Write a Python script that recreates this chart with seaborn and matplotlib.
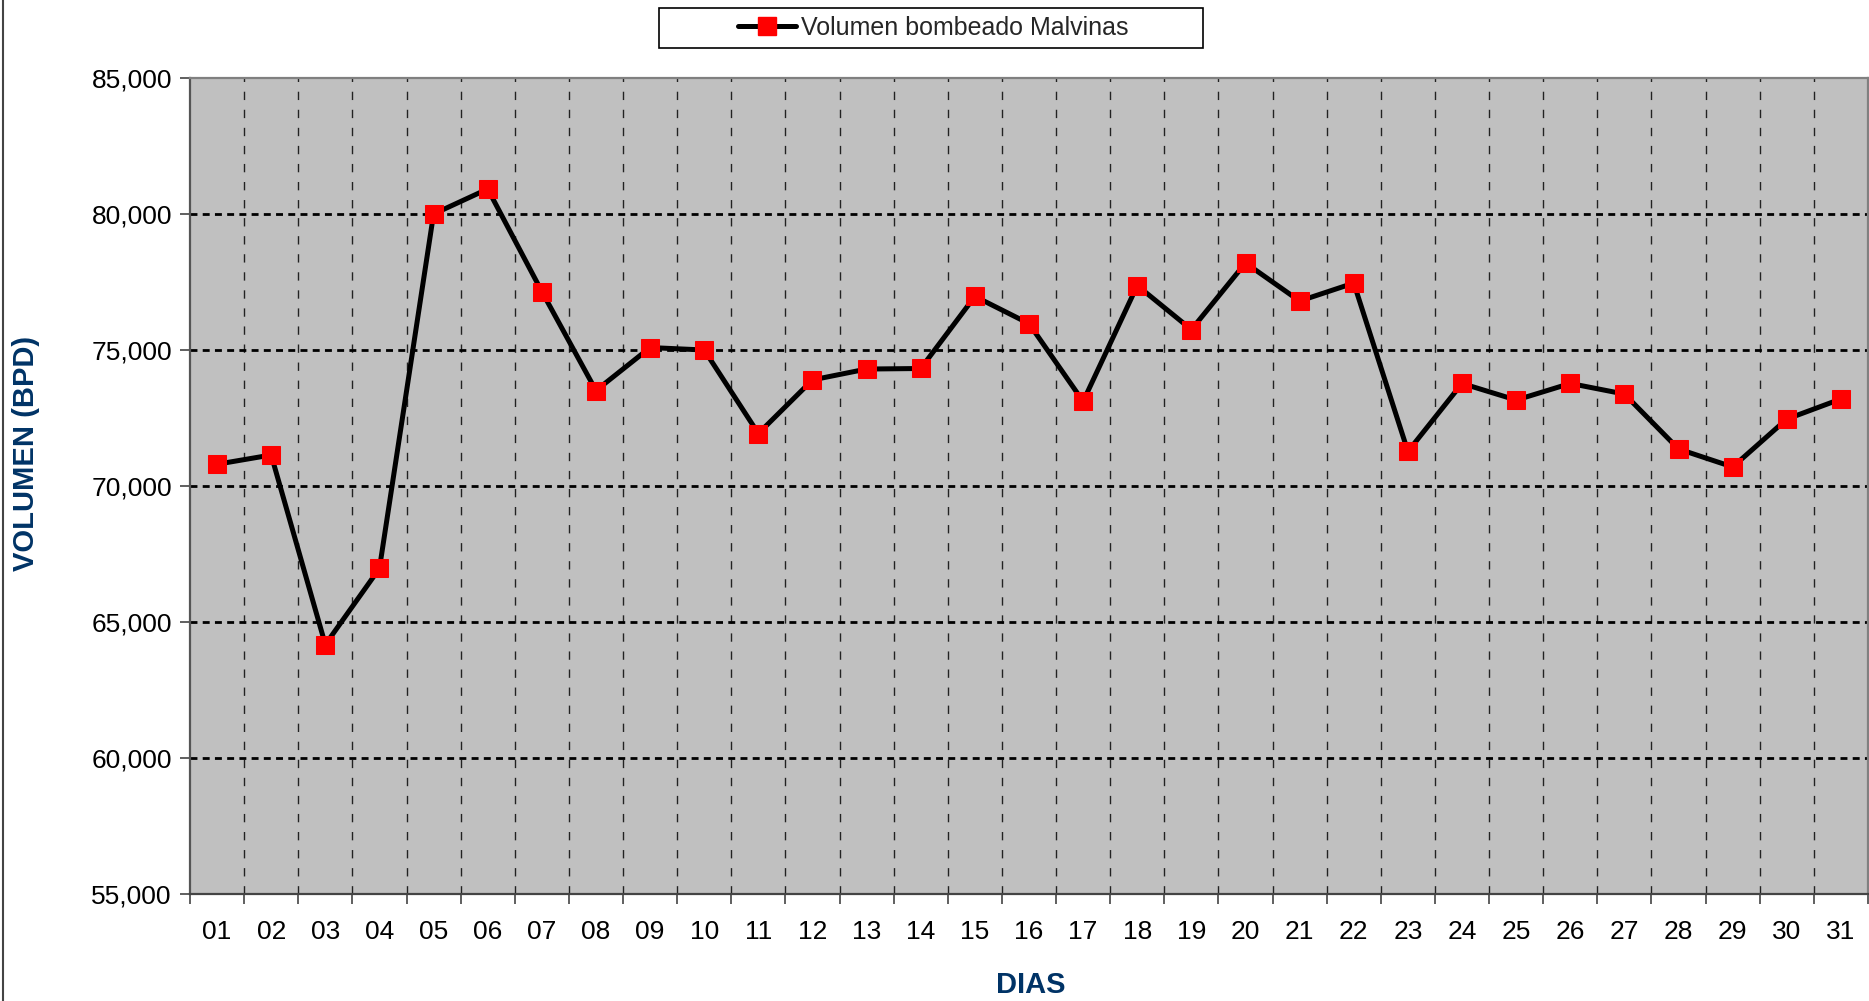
import matplotlib
matplotlib.use("Agg")
import matplotlib.pyplot as plt
import matplotlib.ticker as mticker
from matplotlib.lines import Line2D
from matplotlib.patches import Rectangle
import numpy as np
import pandas as pd
import seaborn as sns

days = [f"{d:02d}" for d in range(1, 32)]
volumen = [
    70800, 71140, 64170, 66970, 80000, 80920, 77150, 73510, 75090, 75000,
    71930, 73900, 74300, 74320, 76970, 75970, 73110, 77370, 75750, 78200,
    76800, 77460, 71270, 73770, 73160, 73770, 73380, 71360, 70700, 72460,
    73200,
]
y_ticks = [55000, 60000, 65000, 70000, 75000, 80000, 85000]
series_label = "Volumen bombeado Malvinas"

sns.set_theme(style="white")
plt.rcParams["font.family"] = ["Liberation Sans", "DejaVu Sans"]

df = pd.DataFrame({"pos": np.arange(len(days)), "vol": volumen})

W, H = 1869, 1001
fig = plt.figure(figsize=(W / 100, H / 100), dpi=100)
ax = fig.add_axes([190 / W, 1 - 894 / H, 1678 / W, (894 - 78) / H])
ax.set_facecolor("#C0C0C0")

# grid first so the series sits on top
for b in np.arange(0.5, len(days) - 0.5, 1.0):
    ax.axvline(b, color="#222222", linestyle=(0, (6, 7)), linewidth=1.0, zorder=1)
for yv in y_ticks[1:-1]:
    ax.axhline(yv, color="black", linestyle=(0, (2.5, 1.9)), linewidth=2.0, zorder=1)

sns.lineplot(
    data=df, x="pos", y="vol", ax=ax, color="black", linewidth=3.6,
    marker="s", markersize=13, markerfacecolor="#FF0000",
    markeredgecolor="#FF0000", zorder=3, legend=False,
)

ax.set_xlim(-0.5, len(days) - 0.5)
ax.set_ylim(55000, 85000)
ax.set_yticks(y_ticks)
ax.yaxis.set_major_formatter(mticker.FuncFormatter(lambda v, _: f"{v:,.0f}"))
ax.set_xticks(np.arange(len(days)))
ax.set_xticklabels(days)
ax.xaxis.set_minor_locator(mticker.FixedLocator(np.arange(-0.5, len(days), 1.0)))
ax.tick_params(axis="x", which="major", length=0, pad=19, labelsize=19, labelcolor="black")
ax.tick_params(axis="x", which="minor", length=7, width=1.2, color="#444444", direction="out", bottom=True)
ax.tick_params(axis="y", which="major", length=7, width=1.2, color="#444444", direction="out",
               left=True, pad=6, labelsize=19, labelcolor="black")

for side, col in [("left", "#555555"), ("bottom", "#444444"), ("top", "#808080"), ("right", "#808080")]:
    ax.spines[side].set_visible(True)
    ax.spines[side].set_color(col)
    ax.spines[side].set_linewidth(1.6)

ax.set_xlabel("DIAS", fontsize=21, fontweight="bold", color="#003366", va="center")
ax.xaxis.set_label_coords(0.501, -(985 - 894) / 816)
ax.set_ylabel("VOLUMEN (BPD)", fontsize=21, fontweight="bold", color="#003366", va="center")
ax.yaxis.set_label_coords(-(190 - 26) / 1678, (894 - 453) / 816)

# legend box drawn separately so its width matches the reference
fig.add_artist(Rectangle((659 / W, 1 - 48 / H), 544 / W, 40 / H, transform=fig.transFigure,
                         facecolor="white", edgecolor="black", linewidth=1.2))
handle = Line2D([], [], color="black", linewidth=3.6, marker="s", markersize=13,
                markerfacecolor="#FF0000", markeredgecolor="#FF0000")
fig.legend([handle], [series_label], loc="center", bbox_to_anchor=(933 / W, 1 - 28 / H),
           frameon=False, fontsize=18, handlelength=2.3, handletextpad=0.2, borderpad=0.2)

fig.add_artist(Line2D([2.5 / W, 2.5 / W], [0, 1], color="#444444", linewidth=1.5))

fig.savefig("out.png", dpi=100)
